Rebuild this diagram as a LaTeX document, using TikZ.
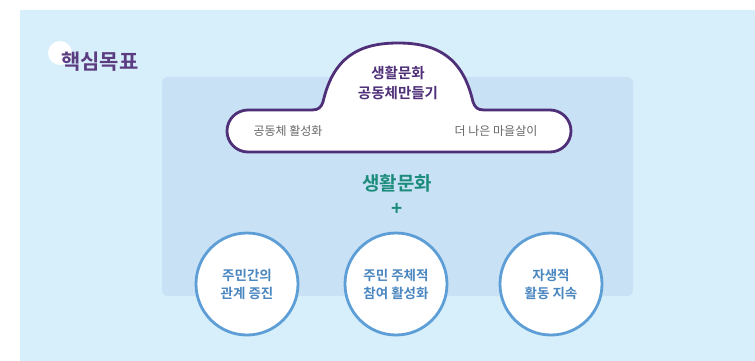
\documentclass[tikz,border=0pt]{standalone}
\usepackage{fontspec}
\setmainfont{Noto Sans CJK KR}[BoldFont={Noto Sans CJK KR Bold}]
\usepackage{tikz}
\usetikzlibrary{shapes,positioning}
\definecolor{skyback}{HTML}{D7EEFB}
\definecolor{panelblue}{HTML}{C8E1F4}
\definecolor{cloudpurple}{HTML}{4E2F78}
\definecolor{titlepurple}{HTML}{5B3C80}
\definecolor{goalteal}{HTML}{1C8C7C}
\definecolor{ringblue}{HTML}{5E9ED6}
\definecolor{ringtext}{HTML}{4A86C0}

\begin{document}
\begin{tikzpicture}[x=1pt, y=-1pt]
        \tikzstyle{target} = [circle, draw=ringblue, line width=2.8pt, fill=white, minimum size=102pt, inner sep=0pt, align=center, text=ringtext, font=\fontsize{13.5}{18}\selectfont\bfseries]
        \tikzstyle{cloudline} = [draw=cloudpurple, line width=2.8pt, fill=white]
        \tikzstyle{cloudtext} = [text=black!60, font=\fontsize{12}{14}\selectfont]
        \tikzstyle{goal} = [text=goalteal, font=\fontsize{19}{22}\selectfont\bfseries, node distance=26pt]

    \useasboundingbox (0,0) rectangle (755,361);
    \fill[skyback] (20,10) rectangle (755,361);
    \fill[panelblue, rounded corners=6pt] (162,77) rectangle (633,296);

    \fill[white] (60,53) circle (12);
    \node [anchor=west, text=titlepurple, font=\fontsize{21}{24}\selectfont\bfseries, inner sep=0pt] (title) at (61,62) {핵심목표};

    \path [cloudline] (248,110) -- (312,110)
        .. controls (319,110) and (321,107) .. (323,102)
        .. controls (333,58) and (358,43) .. (398,43)
        .. controls (438,43) and (463,58) .. (473,102)
        .. controls (475,107) and (477,110) .. (484,110) -- (550,110)
        .. controls (561.6,110) and (571,119.4) .. (571,131)
        .. controls (571,142.6) and (561.6,152) .. (550,152) -- (248,152)
        .. controls (236.4,152) and (227,142.6) .. (227,131)
        .. controls (227,119.4) and (236.4,110) .. (248,110) -- cycle;

    \node [align=center, text=cloudpurple, font=\fontsize{14.5}{20}\selectfont\bfseries] (cloudtitle) at (398,83) {생활문화\\공동체만들기};
    \node [cloudtext] (leftgoal) at (288,131) {공동체 활성화};
    \node [cloudtext] (rightgoal) at (496,131) {더 나은 마을살이};

    \node [goal] (culture) at (397,183) {생활문화};
    \node [goal, below of=culture] (plus) {+};

    \node [target] (relation) at (247,284) {주민간의\\관계 증진};
    \node [target] (participation) at (396,284) {주민 주체적\\참여 활성화};
    \node [target] (activity) at (551,284) {자생적\\활동 지속};
    \end{tikzpicture}
\end{document}
